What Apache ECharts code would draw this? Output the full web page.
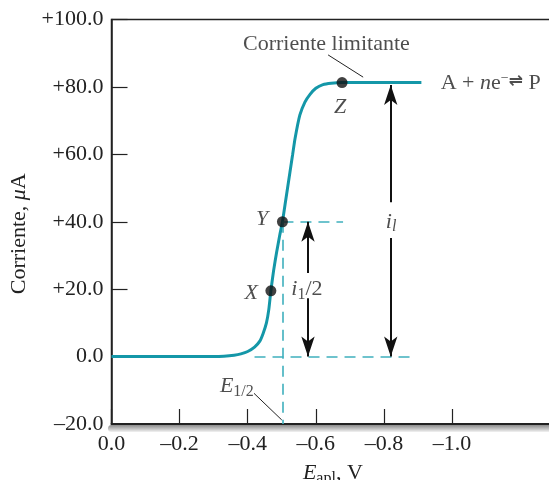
<!DOCTYPE html>
<html><head><meta charset="utf-8">
<script src="https://cdn.jsdelivr.net/npm/echarts@6/dist/echarts.min.js"></script>
<style>html,body{margin:0;padding:0;background:#fff}#c{width:549px;height:480px}</style>
</head><body><div id="c"></div>
<script>
// ---- data ----
var potential = [0, -0.30, -0.33, -0.36, -0.38, -0.40, -0.42, -0.435, -0.445, -0.455, -0.462, -0.468, -0.476, -0.485, -0.494, -0.502, -0.512, -0.524, -0.532, -0.539, -0.553, -0.568, -0.583, -0.60, -0.621, -0.645, -0.677, -0.91];
var current   = [0, 0, 0.1, 0.4, 0.8, 1.5, 2.8, 4.5, 6.8, 10, 14, 19.5, 25.5, 31, 36, 40, 46.7, 54.7, 60, 64.7, 71.6, 75.5, 77.8, 79.6, 80.7, 81.1, 81.3, 81.3];
var pointNames = ['X', 'Y', 'Z'];
var pointE = [-0.468, -0.502, -0.677];
var pointI = [19.5, 40, 81.3];
var xTicks = [0, -0.2, -0.4, -0.6, -0.8, -1.0];
var yTicks = [-20, 0, 20, 40, 60, 80, 100];
var halfWaveE = -0.502;
var halfI = 40;
var limitI = 81.3;
var baseEnd = -0.895;
var halfEnd = -0.68;
var arrowE = [-0.82, -0.577];
var arrowTop = [80.6, 40];
var arrowBottom = [0, 0];
var gapTop = [45.8, 24.8];
var gapBottom = [35.2, 17.3];

var TEAL = '#1497a8';
var DASH = '#3fb0bd';
var FONT = 'Liberation Serif';
var FS = 22;

var curve = potential.map(function (e, k) { return [e, current[k]]; });
var dots = pointE.map(function (e, k) { return { name: pointNames[k], value: [e, pointI[k]] }; });

var arrowLines = [];
arrowE.forEach(function (e, k) {
  arrowLines.push([{ coord: [e, gapTop[k]], symbol: 'none' }, { coord: [e, arrowTop[k]], symbol: 'arrow' }]);
  arrowLines.push([{ coord: [e, gapBottom[k]], symbol: 'none' }, { coord: [e, arrowBottom[k]], symbol: 'arrow' }]);
});

function fmtX(v) { return Math.abs(v) < 1e-9 ? '0.0' : '\u2013' + Math.abs(v).toFixed(1); }
function fmtY(v) { return v > 0 ? '+' + v.toFixed(1) : (v < 0 ? '\u2013' + Math.abs(v).toFixed(1) : '0.0'); }

function annot(coord, formatter, pos, rich) {
  return { value: coord, label: { show: true, position: pos || 'inside', formatter: formatter, fontFamily: FONT, fontSize: FS, color: '#222', rich: rich || {} } };
}
var richBase = {
  it: { fontFamily: FONT, fontSize: FS, fontStyle: 'italic', color: '#222' },
  n: { fontFamily: FONT, fontSize: FS, color: '#222' },
  sub: { fontFamily: FONT, fontSize: 16, color: '#222', padding: [11, 0, 0, 0] },
  subit: { fontFamily: FONT, fontSize: 16, fontStyle: 'italic', color: '#222', padding: [11, 0, 0, 0] },
  sup: { fontFamily: FONT, fontSize: 14, color: '#222', padding: [0, 0, 10, 0] },
  eq: { fontFamily: 'DejaVu Sans', fontSize: 17, fontWeight: 'bold', color: '#222', padding: [0, 0, 2, 0] }
};

var shadowGrad = new echarts.graphic.LinearGradient(0, 424, 0, 432, [
  { offset: 0, color: '#7d7d7d' }, { offset: 1, color: '#f2f2f2' }
], true);

var chart = echarts.init(document.getElementById('c'), null, { renderer: 'canvas' });
chart.setOption({
  animation: false,
  grid: { left: 111.5, top: 19.5, bottom: 56, right: -5.2, outerBoundsMode: 'none', containLabel: false, show: true, borderColor: '#222', borderWidth: 1.5, backgroundColor: 'transparent' },
  xAxis: [{
    type: 'value', min: -1.3, max: 0, inverse: true, z: 2,
    axisLine: { onZero: false, lineStyle: { color: '#222', width: 1.8 } },
    axisTick: { inside: true, length: 15, lineStyle: { color: '#222', width: 1.2 }, customValues: xTicks },
    axisLabel: { customValues: xTicks, formatter: fmtX, fontFamily: FONT, fontSize: FS, color: '#222', margin: 9 },
    splitLine: { show: false },
    name: '{it|E}{sub|apl}{n|, V}', nameLocation: 'middle', nameGap: 36,
    nameTextStyle: { rich: richBase }
  }, { // drop shadow under the axis
    type: 'value', min: -1.3, max: 0, inverse: true, position: 'bottom', offset: 4, z: 1,
    axisLine: { onZero: false, lineStyle: { color: shadowGrad, width: 7 } },
    axisTick: { show: false }, axisLabel: { show: false }, splitLine: { show: false }
  }],
  yAxis: {
    type: 'value', min: -20, max: 100, interval: 20,
    axisLine: { onZero: false, lineStyle: { color: '#222', width: 1.5 } },
    axisTick: { inside: true, length: 16, lineStyle: { color: '#222', width: 1.2 } },
    axisLabel: { formatter: fmtY, fontFamily: FONT, fontSize: FS, color: '#222', margin: 8 },
    splitLine: { show: false },
    name: '{n|Corriente, }{it|\u03bc}{n|A}', nameLocation: 'middle', nameGap: 80,
    nameTextStyle: { rich: richBase, padding: [0, 0, 0, -24] }
  },
  series: [
    { // dashed guides
      type: 'line', data: [], silent: true,
      markLine: {
        silent: true, symbol: 'none', label: { show: false },
        lineStyle: { color: DASH, type: [11, 7], width: 1.6 },
        data: [
          [{ coord: [-0.42, 0] }, { coord: [baseEnd, 0] }],
          [{ coord: [halfWaveE, halfI] }, { coord: [halfEnd, halfI] }],
          [{ coord: [halfWaveE, halfI] }, { coord: [halfWaveE, -20] }]
        ]
      }
    },
    {
      type: 'line', data: curve, showSymbol: false, smooth: 0.2, z: 3,
      lineStyle: { color: TEAL, width: 3 }
    },
    { // arrows
      type: 'line', data: [], silent: true,
      markLine: {
        silent: true, label: { show: false }, symbolSize: [10, 20],
        lineStyle: { color: '#111', type: 'solid', width: 2 },
        data: arrowLines
      }
    },
    { // leader lines
      type: 'line', data: [], silent: true,
      markLine: {
        silent: true, symbol: 'none', label: { show: false },
        lineStyle: { color: '#222', type: 'solid', width: 1 },
        data: [
          [{ coord: [-0.636, 89.5] }, { coord: [-0.739, 82.9] }],
          [{ coord: [-0.4185, -10.9] }, { coord: [-0.50, -18.8] }]
        ]
      }
    },
    {
      type: 'scatter', data: dots, symbolSize: 11, z: 5,
      itemStyle: { color: '#111' }
    },
    { // text annotations
      type: 'scatter', symbolSize: 0, silent: true, z: 6,
      data: [
        annot([-0.631, 92.7], 'Corriente limitante'),
        annot([-0.671, 74.0], '{it|Z}', 'inside', richBase),
        annot([-0.442, 40.8], '{it|Y}', 'inside', richBase),
        annot([-0.41, 18.9], '{it|X}', 'inside', richBase),
        annot([-0.821, 40.0], '{it|i}{subit|l}', 'inside', richBase),
        annot([-0.574, 20.0], '{it|i}{sub|1}{n|/2}', 'inside', richBase),
        annot([-0.368, -8.9], '{it|E}{sub|1/2}', 'inside', richBase),
        annot([-0.952, 81.2], '{n|A + }{it|n}{n|e}{sup|\u2212}{eq|\u21cc}{n| P}', 'right', richBase)
      ]
    }
  ]
});
</script></body></html>
